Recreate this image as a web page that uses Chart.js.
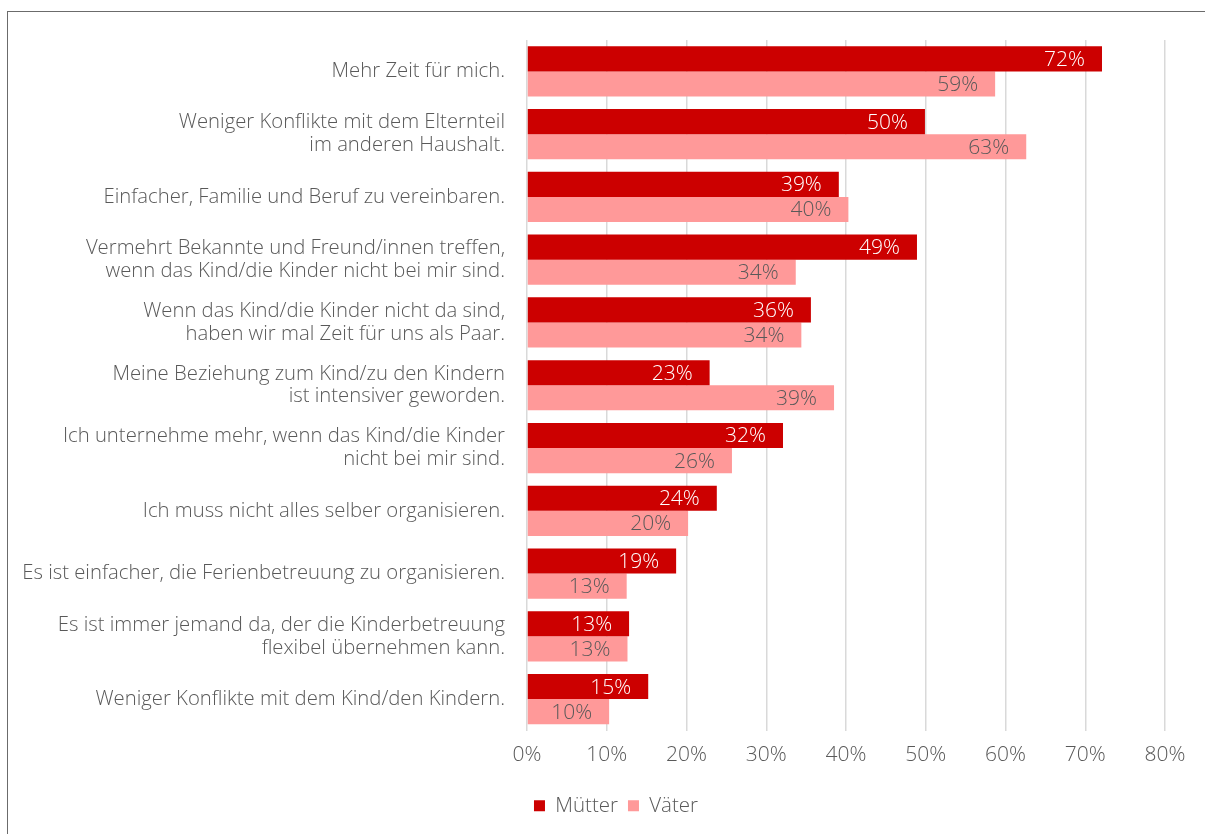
<!DOCTYPE html>
<html>
<head>
<meta charset="utf-8">
<script src="https://cdn.jsdelivr.net/npm/chart.js@4.4.1/dist/chart.umd.min.js"></script>
<style>
  html, body { margin: 0; padding: 0; background: #fff; overflow: hidden; }
  #wrap { position: relative; width: 1205px; height: 834px; }
  #frame { position: absolute; left: 7px; top: 11px; width: 1300px; height: 900px; border-top: 1px solid #6b6b6b; border-left: 1px solid #6b6b6b; }
  canvas { position: absolute; left: 0; top: 0; }
</style>
</head>
<body>
<div id="wrap">
  <div id="frame"></div>
  <canvas id="myBarChart" width="1205" height="834"></canvas>
</div>
<script>
var categories = [
  'Mehr Zeit für mich.',
  ['Weniger Konflikte mit dem Elternteil', 'im anderen Haushalt.'],
  'Einfacher, Familie und Beruf zu vereinbaren.',
  ['Vermehrt Bekannte und Freund/innen treffen,', 'wenn das Kind/die Kinder nicht bei mir sind.'],
  ['Wenn das Kind/die Kinder nicht da sind,', 'haben wir mal Zeit für uns als Paar.'],
  ['Meine Beziehung zum Kind/zu den Kindern', 'ist intensiver geworden.'],
  ['Ich unternehme mehr, wenn das Kind/die Kinder', 'nicht bei mir sind.'],
  'Ich muss nicht alles selber organisieren.',
  'Es ist einfacher, die Ferienbetreuung zu organisieren.',
  ['Es ist immer jemand da, der die Kinderbetreuung', 'flexibel übernehmen kann.'],
  'Weniger Konflikte mit dem Kind/den Kindern.'
]
var muetter = [72.1, 49.9, 39.1, 48.9, 35.6, 22.9, 32.1, 23.8, 18.7, 12.8, 15.2]
var vaeter = [58.7, 62.6, 40.3, 33.7, 34.4, 38.5, 25.7, 20.2, 12.5, 12.6, 10.3]
var seriesNames = ['Mütter', 'Väter']

var textGrey = '#595959'
var fontFamily = "'Open Sans', sans-serif"

// labels inside the end of each bar
var barLabels = {
  id: 'barLabels',
  afterDatasetsDraw: function (chart) {
    var ctx = chart.ctx
    ctx.save()
    ctx.font = '300 21px ' + fontFamily
    ctx.textAlign = 'right'
    ctx.textBaseline = 'middle'
    chart.data.datasets.forEach(function (ds, i) {
      var meta = chart.getDatasetMeta(i)
      ctx.fillStyle = i === 0 ? '#ffffff' : textGrey
      meta.data.forEach(function (bar, j) {
        ctx.fillText(Math.round(ds.data[j]) + '%', bar.x - 17, bar.y + 1)
      })
    })
    ctx.restore()
  }
}

// legend is centred on the whole frame in the original, not on the canvas
var legendShift = {
  id: 'legendShift',
  afterLayout: function (chart) {
    var lg = chart.legend
    var w = lg.right - lg.left
    lg.left = 616 - w / 2
    lg.right = lg.left + w
  }
}

var ctx = document.getElementById('myBarChart').getContext('2d')
var myBarChart = new Chart(ctx, {
  type: 'bar',
  data: {
    labels: categories,
    datasets: [
      {
        label: seriesNames[0],
        data: muetter,
        backgroundColor: '#cc0000',
        borderWidth: 0,
        categoryPercentage: 0.8,
        barPercentage: 1.0,
      },
      {
        label: seriesNames[1],
        data: vaeter,
        backgroundColor: '#ff9999',
        borderWidth: 0,
        categoryPercentage: 0.8,
        barPercentage: 1.0,
      },
    ],
  },
  options: {
    indexAxis: 'y',
    responsive: false,
    animation: false,
    layout: {
      padding: { left: 2, right: 40, top: 40, bottom: 8 },
    },
    scales: {
      x: {
        min: 0,
        max: 80,
        ticks: {
          stepSize: 10,
          padding: 12,
          color: textGrey,
          font: { family: fontFamily, size: 21, weight: 300 },
          callback: function (v) { return v + '%' },
        },
        grid: { color: '#d9d9d9', lineWidth: 1.5, drawTicks: false },
        border: { display: false },
        afterFit: function (scale) { scale.height = 55 },
      },
      y: {
        ticks: {
          padding: 22,
          color: textGrey,
          font: { family: fontFamily, size: 20.3, weight: 300, lineHeight: 1.13 },
        },
        grid: { display: false, drawTicks: false },
        border: { display: false },
        afterFit: function (scale) { scale.width = 527 - 2 },
      },
    },
    plugins: {
      legend: {
        position: 'bottom',
        labels: {
          boxWidth: 11,
          boxHeight: 11,
          padding: 10,
          color: textGrey,
          font: { family: fontFamily, size: 20.5, weight: 300 },
        },
      },
      tooltip: { enabled: false },
    },
  },
  plugins: [barLabels, legendShift],
})
</script>
</body>
</html>
